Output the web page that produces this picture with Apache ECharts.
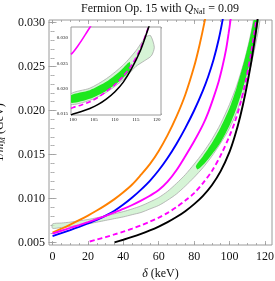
<!DOCTYPE html>
<html><head><meta charset="utf-8">
<script src="https://cdn.jsdelivr.net/npm/echarts@6/dist/echarts.min.js"></script>
<style>html,body{margin:0;padding:0;background:#fff}#c{width:275px;height:281px}</style>
</head><body><div id="c"></div>
<script>
// tick labels
const xTicks=[0,20,40,60,80,100,120];
const yTicks=[0.005,0.010,0.015,0.020,0.025,0.030];
const insetXTicks=[100,105,110,115,120];
const insetYTicks=[0.015,0.020,0.025,0.030];

// main panel curves [delta (keV), 1/m_M (GeV)]
const orange=[[0,0.0061],[5,0.00655],[10,0.00702],[15,0.00752],[20,0.00805],[25,0.00862],[30,0.00924],[35,0.00992],[40,0.0107],[45,0.01158],[50,0.0127],[55,0.0139],[60,0.0154],[65,0.0172],[70,0.0193],[75,0.0218],[80,0.0250],[83,0.0274],[86,0.0302],[88,0.0324]];
const blue=[[0,0.0057],[5,0.00605],[10,0.0064],[15,0.00677],[20,0.00716],[25,0.00757],[30,0.00804],[35,0.0086],[40,0.0093],[45,0.0101],[50,0.0110],[55,0.0120],[60,0.0132],[65,0.0146],[70,0.0162],[75,0.0180],[80,0.0200],[85,0.0223],[88,0.0239],[91,0.0258],[94,0.0282],[96,0.0302],[97.5,0.0320]];
const magenta=[[0,0.0060],[5,0.00632],[10,0.00664],[15,0.00697],[20,0.00731],[25,0.00766],[30,0.00802],[35,0.0084],[40,0.0088],[45,0.00925],[50,0.00975],[55,0.0103],[60,0.01095],[65,0.0119],[70,0.0132],[75,0.0148],[80,0.0165],[85,0.0184],[88,0.0198],[91,0.0215],[94,0.0234],[96,0.0250],[98,0.0269],[99.5,0.0288],[100.5,0.0302],[101.5,0.0318]];
const magentaDash=[[21,0.0051],[25,0.00532],[30,0.0056],[35,0.0059],[40,0.00622],[45,0.00656],[50,0.00693],[55,0.00735],[60,0.00782],[65,0.00836],[70,0.0090],[75,0.00975],[80,0.0106],[85,0.01175],[90,0.0131],[95,0.0149],[100,0.0171],[103,0.0187],[106,0.0207],[109,0.0232],[112,0.0263],[114,0.0288],[115.5,0.0310],[116.5,0.0326]];
const black=[[35,0.0050],[40,0.0053],[45,0.00562],[50,0.00597],[55,0.00636],[60,0.0068],[65,0.0073],[70,0.00788],[75,0.00855],[80,0.00935],[85,0.0103],[90,0.0115],[95,0.0131],[100,0.0153],[103,0.0171],[106,0.0193],[109,0.0220],[112,0.0252],[114,0.0277],[115.5,0.0298],[116.7,0.0318]];
const bandUpper=[[0,0.0071],[5,0.0072],[10,0.0073],[15,0.00745],[20,0.0076],[25,0.0078],[30,0.0080],[35,0.00825],[40,0.0085],[45,0.0088],[50,0.00915],[55,0.0096],[60,0.0101],[65,0.0108],[70,0.0117],[75,0.0127],[80,0.0139],[85,0.0152],[90,0.0167],[95,0.0185],[100,0.0207],[104,0.0228],[108,0.0254],[111,0.0278],[113,0.0297],[114.5,0.0313]];
const bandLower=[[0,0.0066],[5,0.0067],[10,0.0068],[15,0.00695],[20,0.0071],[25,0.0073],[30,0.0075],[35,0.0077],[40,0.0079],[45,0.00815],[50,0.0084],[55,0.0088],[60,0.0092],[65,0.0098],[70,0.0105],[75,0.0114],[80,0.0124],[85,0.0135],[90,0.0148],[95,0.0163],[100,0.0180],[104,0.0198],[108,0.0221],[111,0.0242],[114,0.0268],[116,0.0288],[117.5,0.0306],[118.5,0.0320]];
const darkUpper=[[81,0.0137],[85,0.0148],[90,0.0163],[95,0.0181],[100,0.0203],[104,0.0226],[108,0.0254],[111,0.0278],[113.5,0.0302],[114.5,0.0315]];
const darkLower=[[82,0.0133],[86,0.0140],[90,0.0150],[95,0.0164],[100,0.0183],[104,0.0203],[108,0.0228],[111,0.0250],[114,0.0276],[116,0.0298],[117,0.0312]];

// inset curves
const insetMagenta=[[99.5,0.0268],[100,0.0272],[101,0.0283],[102,0.0295],[103,0.0308],[104,0.0321],[104.5,0.0328]];
const insetDash=[[99.5,0.0161],[100,0.0163],[102,0.0168],[104,0.0174],[106,0.0183],[108,0.0195],[110,0.0208],[112,0.0225],[114,0.0247],[116,0.0278],[117.5,0.0310],[118.2,0.0328]];
const insetBlack=[[99.5,0.0148],[100,0.0150],[102,0.0155],[104,0.0161],[106,0.0169],[108,0.0180],[110,0.0194],[112,0.0213],[114,0.0240],[116,0.0274],[117.5,0.0308],[118.3,0.0328]];
const insetBandUpper=[[99.5,0.0190],[104,0.0201],[108,0.0220],[112,0.0247],[115,0.0275],[116.5,0.0293],[117.5,0.0303],[118.5,0.0305]];
const insetBandLower=[[99.5,0.0169],[104,0.0177],[108,0.0193],[112,0.0218],[115,0.0244],[117,0.0255],[118.7,0.0265],[119.4,0.0282]];
const insetDarkUpper=[[99.5,0.0187],[104,0.0197],[108,0.0214],[111,0.0233],[113.5,0.0253]];
const insetDarkLower=[[99.5,0.0172],[104,0.0180],[108,0.0196],[111,0.0214],[113.5,0.0236]];

const FONT='Liberation Serif';
const FRAME='#9a9a9a';
function range(a,b,s){const r=[];for(let v=a;v<=b+s/2;v+=s)r.push(+v.toFixed(6));return r;}

const mainX={min:-2,max:124}, mainY={min:0.0047,max:0.0303};
const insX={min:99.5,max:121}, insY={min:0.0148,max:0.0322};

function tickAxis(grid,lim,pos,vals,len,labels,lblOpt){
  return {type:'value',gridIndex:grid,position:pos,min:lim.min,max:lim.max,
    axisLine:{show:false},splitLine:{show:false},
    axisTick:{show:true,inside:true,length:len,customValues:vals,lineStyle:{color:FRAME,width:0.8}},
    axisLabel:labels?Object.assign({show:true,customValues:labels,fontFamily:FONT,color:'#111'},lblOpt):{show:false}
  };
}

const xAxis=[
  tickAxis(0,mainX,'bottom',xTicks,4,xTicks,{fontSize:12,margin:6}),
  tickAxis(0,mainX,'bottom',range(0,120,5),2,null),
  tickAxis(0,mainX,'top',xTicks,4,null),
  tickAxis(0,mainX,'top',range(0,120,5),2,null),
  tickAxis(1,insX,'bottom',insetXTicks,3,insetXTicks,{fontSize:5,margin:2}),
  tickAxis(1,insX,'bottom',range(100,121,1),1.5,null),
  tickAxis(1,insX,'top',insetXTicks,3,null),
  tickAxis(1,insX,'top',range(100,121,1),1.5,null)
];
xAxis[0].name='{i|δ} (keV)';
xAxis[0].nameLocation='middle';xAxis[0].nameGap=21;
xAxis[0].nameTextStyle={fontFamily:FONT,fontSize:12,color:'#111',rich:{i:{fontFamily:FONT,fontSize:12,fontStyle:'italic',color:'#111'}}};

const yFmt=v=>v.toFixed(3);
const yAxis=[
  tickAxis(0,mainY,'left',yTicks,4,yTicks,{fontSize:12,margin:4,formatter:yFmt}),
  tickAxis(0,mainY,'left',range(0.005,0.030,0.001),2,null),
  tickAxis(0,mainY,'right',yTicks,4,null),
  tickAxis(0,mainY,'right',range(0.005,0.030,0.001),2,null),
  tickAxis(1,insY,'left',insetYTicks,3,insetYTicks,{fontSize:5,margin:3,formatter:yFmt}),
  tickAxis(1,insY,'left',range(0.015,0.032,0.001),1.5,null),
  tickAxis(1,insY,'right',insetYTicks,3,null),
  tickAxis(1,insY,'right',range(0.015,0.032,0.001),1.5,null)
];
yAxis[0].name='1/{i|m}{s|M} (GeV)';
yAxis[0].nameLocation='middle';yAxis[0].nameGap=31;
yAxis[0].nameTextStyle={fontFamily:FONT,fontSize:12,color:'#111',rich:{
  i:{fontFamily:FONT,fontSize:12,fontStyle:'italic',color:'#111'},
  s:{fontFamily:FONT,fontSize:8,fontStyle:'italic',color:'#111',padding:[6,0,0,0]}}};

function line(data,color,xi,dashed,w){
  return {type:'line',data:data,xAxisIndex:xi,yAxisIndex:xi,smooth:0.3,showSymbol:false,silent:true,clip:true,
    lineStyle:{color:color,width:w||1.9,type:dashed?[5,3]:'solid'},z:5};
}
function band(upper,lower,fill,stroke,xi,z){
  return {type:'custom',xAxisIndex:xi,yAxisIndex:xi,clip:true,silent:true,z:z,
    data:[upper[Math.floor(upper.length/2)]],
    renderItem:function(params,api){
      const pts=upper.map(p=>api.coord(p)).concat(lower.slice().reverse().map(p=>api.coord(p)));
      return {type:'polygon',shape:{points:pts,smooth:0.25},style:{fill:fill,stroke:stroke,lineWidth:stroke?0.8:0}};
    }};
}

const option={
  animation:false,
  backgroundColor:'#fff',
  grid:[
    {left:49,top:20,right:3,bottom:36,show:true,borderColor:FRAME,borderWidth:1,backgroundColor:'#fff',outerBoundsMode:'none',containLabel:false},
    {left:71,top:27,width:90,height:88,show:true,borderColor:FRAME,borderWidth:1,backgroundColor:'#fff',z:3,outerBoundsMode:'none',containLabel:false}
  ],
  xAxis:xAxis,yAxis:yAxis,
  graphic:[{type:'text',x:160,y:9,style:{
    text:'Fermion Op. 15 with {i|Q}{s|NaI} = 0.09',fontFamily:FONT,fontSize:12,fill:'#111',align:'center',verticalAlign:'middle',
    rich:{i:{fontFamily:FONT,fontSize:12,fontStyle:'italic',fill:'#111'},s:{fontFamily:FONT,fontSize:8,fill:'#111',padding:[5,0,0,0]}}}}],
  series:[
    band(bandUpper,bandLower,'rgba(200,240,200,0.75)','#aaaaaa',0,2),
    band(darkUpper,darkLower,'#1ee81e',null,0,3),
    line(orange,'#ff8000',0),
    line(blue,'#0000ff',0),
    line(magenta,'#ff00ff',0),
    line(magentaDash,'#ff00ff',0,true),
    line(black,'#000000',0),
    band(insetBandUpper,insetBandLower,'rgba(200,240,200,0.75)','#aaaaaa',4,6),
    band(insetDarkUpper,insetDarkLower,'#1ee81e',null,4,7),
    Object.assign(line(insetMagenta,'#ff00ff',4,false,1.6),{z:8}),
    Object.assign(line(insetDash,'#ff00ff',4,true,1.6),{z:8}),
    Object.assign(line(insetBlack,'#000000',4,false,1.6),{z:8})
  ]
};
const ch=echarts.init(document.getElementById('c'),null,{renderer:'canvas'});
ch.setOption(option);
</script></body></html>
